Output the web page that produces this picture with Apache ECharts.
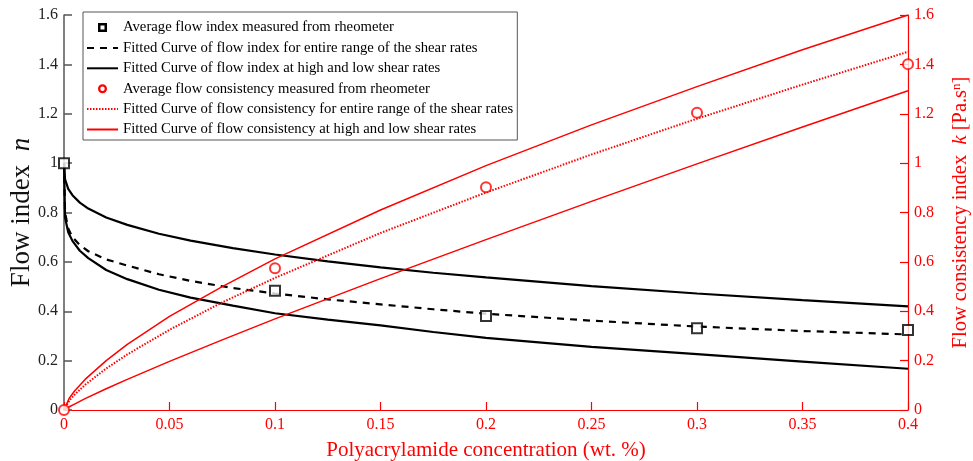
<!DOCTYPE html>
<html>
<head>
<meta charset="utf-8">
<script src="https://cdn.jsdelivr.net/npm/echarts/dist/echarts.min.js"></script>
<style>
  html, body { margin: 0; padding: 0; background: #fff; }
  #chart { width: 973px; height: 461px; }
</style>
</head>
<body>
<div id="chart"></div>
<script>
// Measured points (rheometer averages)
const concMeasured = [0, 0.1, 0.2, 0.3, 0.4];
const flowIndexMeasured = [1.0, 0.483, 0.381, 0.331, 0.324];
const consistencyMeasured = [0, 0.574, 0.902, 1.204, 1.401];

// Fitted flow-index curves
const concN = [0, 0.0005, 0.002, 0.004, 0.0075, 0.0115, 0.02, 0.03, 0.045, 0.06, 0.08, 0.1, 0.125, 0.15, 0.175, 0.2, 0.25, 0.3, 0.35, 0.4];
const flowIndexEntire = [1.0, 0.80, 0.735, 0.70, 0.668, 0.643, 0.61, 0.585, 0.55, 0.523, 0.494, 0.472, 0.448, 0.428, 0.408, 0.39, 0.362, 0.338, 0.32, 0.306];
const flowIndexHigh = [1.0, 0.934, 0.896, 0.870, 0.840, 0.816, 0.780, 0.750, 0.714, 0.686, 0.656, 0.630, 0.602, 0.578, 0.556, 0.537, 0.502, 0.472, 0.445, 0.420];
const flowIndexLow = [1.0, 0.78, 0.72, 0.685, 0.645, 0.615, 0.567, 0.53, 0.487, 0.455, 0.423, 0.392, 0.366, 0.343, 0.316, 0.292, 0.256, 0.226, 0.196, 0.167];

// Fitted flow-consistency curves
const concK = [0, 0.0025, 0.005, 0.01, 0.02, 0.03, 0.05, 0.075, 0.1, 0.15, 0.2, 0.25, 0.3, 0.35, 0.4];
const consistencyEntire = [0, 0.038, 0.062, 0.102, 0.168, 0.225, 0.325, 0.436, 0.535, 0.717, 0.881, 1.035, 1.18, 1.318, 1.451];
const consistencyHigh = [0, 0.048, 0.077, 0.124, 0.20, 0.266, 0.379, 0.50, 0.612, 0.81, 0.99, 1.155, 1.31, 1.459, 1.6];
const consistencyLow = [0, 0.013, 0.024, 0.046, 0.086, 0.124, 0.197, 0.284, 0.369, 0.532, 0.69, 0.845, 0.997, 1.146, 1.293];

const seriesNames = [
  'Average flow index measured from rheometer',
  'Fitted Curve of flow index for entire range of the shear rates',
  'Fitted Curve of flow index at high and low shear rates',
  'Average flow consistency measured from rheometer',
  'Fitted Curve of flow consistency for entire range of the shear rates',
  'Fitted Curve of flow consistency at high and low shear rates'
];

const zip = (xs, ys) => xs.map((x, i) => [x, ys[i]]);

const FONT = '"Liberation Serif", "Times New Roman", serif';
const RED = '#ff0000';
const AXIS_DARK = '#555555';

// Legend markers: hollow square / ring centred in a 31x14 box
const CORNERS = 'M0,0 L0.01,0 L0,0.01 Z M31,14 L30.99,14 L31,13.99 Z ';
const SQUARE_ICON = 'path://' + CORNERS +
  'M11,2.5 L20,2.5 L20,11.5 L11,11.5 Z M13.5,5 L13.5,9 L17.5,9 L17.5,5 Z';
const RING_ICON = 'path://' + CORNERS +
  'M11,7 A4.5,4.5 0 1,1 20,7 A4.5,4.5 0 1,1 11,7 Z M13.3,7 A2.2,2.2 0 1,0 17.7,7 A2.2,2.2 0 1,0 13.3,7 Z';

const chart = echarts.init(document.getElementById('chart'), null, { renderer: 'canvas' });

const curve = (name, data, axis, color, type, width) => ({
  name, type: 'line', yAxisIndex: axis, data,
  symbol: 'circle', showSymbol: false, smooth: false,
  lineStyle: { color, width, type },
  itemStyle: { color, opacity: 0 },
  z: axis === 0 ? 2 : 3
});

chart.setOption({
  animation: false,
  backgroundColor: '#fff',
  textStyle: { fontFamily: FONT },
  grid: { left: 64, right: 65, top: 15, bottom: 51, containLabel: false, outerBoundsMode: 'none' },
  legend: {
    orient: 'vertical',
    left: 83, top: 12,
    padding: [8, 4, 3, 3],
    itemWidth: 31, itemHeight: 14, itemGap: 5.4,
    backgroundColor: '#fff',
    borderColor: AXIS_DARK, borderWidth: 1, borderRadius: 0,
    textStyle: { fontFamily: FONT, fontSize: 14.7, color: '#000', lineHeight: 14 },
    selectedMode: false,
    data: [
      { name: seriesNames[0], icon: SQUARE_ICON, itemStyle: { color: '#000', borderWidth: 0, opacity: 1 } },
      { name: seriesNames[1], itemStyle: { opacity: 0 } },
      { name: seriesNames[2], itemStyle: { opacity: 0 } },
      { name: seriesNames[3], icon: RING_ICON, itemStyle: { color: RED, borderWidth: 0, opacity: 1 } },
      { name: seriesNames[4], itemStyle: { opacity: 0 } },
      { name: seriesNames[5], itemStyle: { opacity: 0 } }
    ]
  },
  xAxis: {
    type: 'value', min: 0, max: 0.4, interval: 0.05,
    name: 'Polyacrylamide concentration (wt. %)',
    nameLocation: 'middle', nameGap: 30,
    nameTextStyle: { fontFamily: FONT, fontSize: 21, color: RED },
    axisLine: { show: true, lineStyle: { color: RED, width: 1.2 } },
    axisTick: { show: true, inside: true, length: 8, lineStyle: { color: RED, width: 1.2 } },
    axisLabel: { color: RED, fontFamily: FONT, fontSize: 16, margin: 7,
      formatter: v => String(parseFloat(v.toFixed(2))) },
    splitLine: { show: false }
  },
  yAxis: [
    {
      type: 'value', position: 'left', min: 0, max: 1.6, interval: 0.2,
      name: '{t|Flow index  }{i|n}',
      nameLocation: 'middle', nameGap: 29, nameRotate: 90, nameMoveOverlap: false,
      nameTextStyle: {
        fontFamily: FONT, fontSize: 27, color: '#111',
        rich: {
          t: { fontFamily: FONT, fontSize: 27, color: '#111' },
          i: { fontFamily: FONT, fontSize: 27, color: '#111', fontStyle: 'italic' }
        }
      },
      axisLine: { show: true, lineStyle: { color: AXIS_DARK, width: 1.5 } },
      axisTick: { show: true, inside: true, length: 8, lineStyle: { color: AXIS_DARK, width: 1.5 } },
      axisLabel: { color: '#222', fontFamily: FONT, fontSize: 16, margin: 6 },
      splitLine: { show: false }
    },
    {
      type: 'value', position: 'right', min: 0, max: 1.6, interval: 0.2,
      name: '{t|Flow consistency index  }{i|k}{t| [Pa.s}{s|n}{t|]}',
      nameLocation: 'middle', nameGap: 42, nameRotate: 90,
      nameTextStyle: {
        fontFamily: FONT, fontSize: 20.5, color: RED,
        rich: {
          t: { fontFamily: FONT, fontSize: 20.5, color: RED },
          i: { fontFamily: FONT, fontSize: 20.5, color: RED, fontStyle: 'italic' },
          s: { fontFamily: FONT, fontSize: 13, color: RED, verticalAlign: 'top', lineHeight: 22 }
        }
      },
      axisLine: { show: true, lineStyle: { color: RED, width: 1.2 } },
      axisTick: { show: true, inside: true, length: 8, lineStyle: { color: RED, width: 1.2 } },
      axisLabel: { color: RED, fontFamily: FONT, fontSize: 16, margin: 6 },
      splitLine: { show: false }
    }
  ],
  series: [
    {
      name: seriesNames[0], type: 'scatter', yAxisIndex: 0,
      data: zip(concMeasured, flowIndexMeasured),
      symbol: 'emptyRect', symbolSize: 10, clip: false,
      itemStyle: { color: '#000', borderColor: '#000', borderWidth: 1.6 },
      z: 5
    },
    curve(seriesNames[1], zip(concN, flowIndexEntire), 0, '#000', [7, 6], 2.2),
    curve(seriesNames[2], zip(concN, flowIndexHigh), 0, '#000', 'solid', 2.2),
    {
      name: seriesNames[3], type: 'scatter', yAxisIndex: 1,
      data: zip(concMeasured, consistencyMeasured),
      symbol: 'emptyCircle', symbolSize: 10, clip: false,
      itemStyle: { color: RED, borderColor: RED, borderWidth: 2 },
      z: 5
    },
    curve(seriesNames[4], zip(concK, consistencyEntire), 1, RED, [1.5, 1.5], 2),
    curve(seriesNames[5], zip(concK, consistencyHigh), 1, RED, 'solid', 1.5),
    // second branch of each high/low pair shares its legend entry
    curve(seriesNames[2], zip(concN, flowIndexLow), 0, '#000', 'solid', 2.2),
    curve(seriesNames[5], zip(concK, consistencyLow), 1, RED, 'solid', 1.5)
  ]
});
</script>
</body>
</html>
